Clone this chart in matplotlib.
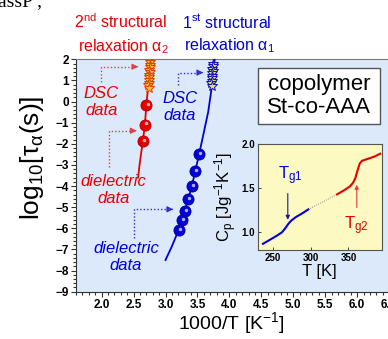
import matplotlib.pyplot as plt
from matplotlib.patches import Rectangle
from matplotlib.ticker import MultipleLocator
from matplotlib.transforms import ScaledTranslation

plt.rcParams['font.family'] = ['Liberation Sans', 'DejaVu Sans']
plt.rcParams['mathtext.fontset'] = 'custom'
plt.rcParams['mathtext.rm'] = 'Liberation Sans'
plt.rcParams['mathtext.it'] = 'Liberation Sans:italic'
plt.rcParams['mathtext.bf'] = 'Liberation Sans:bold'
plt.rcParams['mathtext.default'] = 'regular'

RED = '#e60000'
BLUE = '#0000d8'

# dielectric relaxation times (circles)
diel2_x = [2.645, 2.678, 2.700]
diel2_y = [-1.87, -1.09, -0.16]
diel1_x = [3.205, 3.257, 3.299, 3.355, 3.413, 3.465, 3.527]
diel1_y = [-6.08, -5.61, -5.17, -4.63, -4.00, -3.29, -2.48]

# DSC derived relaxation times (stars)
dsc2_x = [2.765, 2.755, 2.76, 2.745, 2.75, 2.74, 2.745, 2.735, 2.74, 2.73, 2.735]
dsc2_y = [1.85, 1.72, 1.62, 1.50, 1.38, 1.26, 1.14, 1.02, 0.90, 0.76, 0.62]
dsc1_x = [3.745, 3.74, 3.735, 3.74, 3.73, 3.725, 3.73, 3.72, 3.715, 3.72]
dsc1_y = [1.78, 1.66, 1.55, 1.45, 1.34, 1.22, 1.10, 0.98, 0.86, 0.72]

# VFT curves as drawn
fit2_x = [2.57, 2.60, 2.645, 2.678, 2.700, 2.74, 2.79]
fit2_y = [-3.6, -2.85, -1.87, -1.09, -0.16, 1.05, 2.3]
fit1_x = [3.00, 3.10, 3.205, 3.257, 3.299, 3.355, 3.413, 3.465, 3.527, 3.60, 3.668, 3.72, 3.78]
fit1_y = [-7.5, -6.85, -6.08, -5.61, -5.17, -4.63, -4.00, -3.29, -2.48, -1.45, -0.49, 0.6, 2.3]

# inset: heat capacity
cp1_T = [237, 245, 255, 262, 266, 270, 274, 280, 288, 297]
cp1 = [0.87, 0.91, 0.96, 1.00, 1.04, 1.09, 1.13, 1.17, 1.21, 1.26]
cpm_T = [297, 335]
cpm = [1.26, 1.43]
cp2_T = [335, 345, 352, 356, 359, 362, 365, 368, 375, 385, 392]
cp2 = [1.43, 1.48, 1.52, 1.56, 1.61, 1.70, 1.78, 1.81, 1.83, 1.86, 1.89]

fig = plt.figure(figsize=(3.88, 3.39), dpi=100)
ax = fig.add_axes([0.196, 0.1395, 0.8235, 0.6856])
ax.set_facecolor('#dce9fa')
ax.set_xlim(1.6, 6.6)
ax.set_ylim(-9, 2)
ax.xaxis.set_minor_locator(MultipleLocator(0.1))
ax.yaxis.set_major_locator(MultipleLocator(1))
ax.yaxis.set_minor_locator(MultipleLocator(0.2))
ax.set_xticks([2.0, 2.5, 3.0, 3.5, 4.0, 4.5, 5.0, 5.5, 6.0, 6.5])
ax.set_xticklabels(['2.0', '2.5', '3.0', '3.5', '4.0', '4.5', '5.0', '5.5', '6.0', '6.5'])
ax.tick_params(which='both', direction='out', width=0.8, color='#333333', pad=1.5)
ax.tick_params(which='major', length=3.5, labelsize=8.5)
ax.tick_params(which='minor', length=2.2)
for lab in ax.get_xticklabels() + ax.get_yticklabels():
    lab.set_fontweight('bold')
for s in ['left', 'bottom']:
    ax.spines[s].set_color('#333333')
ax.spines['top'].set_color('#777777')
ax.spines['right'].set_visible(False)

# curves
ax.plot(fit2_x, fit2_y, color=RED, lw=1.3, zorder=3)
ax.plot(fit1_x, fit1_y, color=BLUE, lw=1.3, zorder=3)

# dielectric spheres with highlight
hl = ax.transData + ScaledTranslation(0.012, 0.012, fig.dpi_scale_trans)
ax.plot(diel2_x, diel2_y, 'o', ms=8, mfc=RED, mec='#b00000', mew=0.6, zorder=4)
ax.plot(diel2_x, diel2_y, 'o', ms=2.5, mfc='#ffb0b0', mec='none', transform=hl, zorder=5)
ax.plot(diel1_x, diel1_y, 'o', ms=8, mfc=BLUE, mec='#000090', mew=0.6, zorder=4)
ax.plot(diel1_x, diel1_y, 'o', ms=2.5, mfc='#b0b0ff', mec='none', transform=hl, zorder=5)

# DSC stars
ax.plot(dsc2_x, dsc2_y, '*', ms=7, mfc='#f5c040', mec='#e04000', mew=0.7, zorder=4)
ax.plot(dsc1_x, dsc1_y, '*', ms=7, mfc='#e8e060', mec='#1010c0', mew=0.7, zorder=4)

# labels inside the plot
ax.text(1.997, -0.04, 'DSC\ndata', color=RED, style='italic', fontsize=12,
        ha='center', va='center', linespacing=1.15)
ax.text(2.185, -4.2, 'dielectric\ndata', color=RED, style='italic', fontsize=12,
        ha='center', va='center', linespacing=1.15)
ax.text(3.225, -0.24, 'DSC\ndata', color=BLUE, style='italic', fontsize=12,
        ha='center', va='center', linespacing=1.15)
ax.text(2.38, -7.36, 'dielectric\ndata', color=BLUE, style='italic', fontsize=12,
        ha='center', va='center', linespacing=1.15)

# dotted pointer arrows: (x start, y start, y corner, x tip)
pointers = [(1.984, 0.94, 1.65, 2.573, '#e04040'),
            (2.11, -3.10, -1.38, 2.548, '#e04040'),
            (3.20, 0.78, 1.37, 3.59, '#3030d0'),
            (2.513, -6.47, -5.10, 3.12, '#3030d0')]
for x0, y0, y1, x2, c in pointers:
    ax.plot([x0, x0, x2 - 0.06], [y0, y1, y1], ls=(0, (1, 1.5)), color=c, lw=1)
    ax.annotate('', xy=(x2, y1), xytext=(x2 - 0.07, y1),
                arrowprops=dict(arrowstyle='-|>', color=c, lw=0.8, mutation_scale=9))

# axis labels
fig.text(32 / 388, 1 - 158 / 339, r'log$_{10}$[τ$_α$(s)]', rotation=90,
         ha='center', va='center', fontsize=19)
fig.text(231.5 / 388, 1 - 329 / 339, r'1000/T [K$^{-1}$]', ha='center', va='baseline', fontsize=14)

# titles
fig.text(121 / 388, 1 - 28 / 339, r'2$^{nd}$ structural', color=RED, ha='center', va='baseline', fontsize=11.5)
fig.text(123 / 388, 1 - 51 / 339, r'relaxation α$_2$', color=RED, ha='center', va='baseline', fontsize=11.5)
fig.text(227 / 388, 1 - 28 / 339, r'1$^{st}$ structural', color=BLUE, ha='center', va='baseline', fontsize=11.5)
fig.text(229.5 / 388, 1 - 50 / 339, r'relaxation α$_1$', color=BLUE, ha='center', va='baseline', fontsize=11.5)

# cut-off text from the page above
fig.text(-0.005, 1 - 6 / 339, 'assP ,', family='Liberation Serif', fontsize=14, va='baseline')

# sample box
fig.patches.append(Rectangle((258 / 388, 1 - 124 / 339), 122 / 388, 56 / 339,
                             transform=fig.transFigure, facecolor='white',
                             edgecolor='#555555', lw=1, zorder=5))
fig.text(319 / 388, 1 - 96 / 339, 'copolymer\nSt-co-AAA', ha='center', va='center',
         fontsize=16, linespacing=1.1, zorder=6)

# inset
ins = fig.add_axes([257.7 / 388, 1 - 250 / 339, 124 / 388, 106 / 339])
ins.set_facecolor('#fdf9c2')
ins.set_xlim(230, 394)
ins.set_ylim(0.8, 2.0)
ins.set_xticks([250, 300, 350])
ins.set_yticks([1.0, 1.5, 2.0])
ins.set_yticklabels(['1.0', '1.5', '2.0'])
ins.tick_params(direction='in', length=2.5, width=0.7, labelsize=7, pad=2, color='#444444')
for lab in ins.get_xticklabels() + ins.get_yticklabels():
    lab.set_fontweight('bold')
for s in ins.spines.values():
    s.set_color('#555555')
ins.plot(cp1_T, cp1, color=BLUE, lw=1.5)
ins.plot(cpm_T, cpm, color='#666666', lw=0.6, ls=':')
ins.plot(cp2_T, cp2, color=RED, lw=1.5)
ins.annotate('', xy=(269.8, 1.11), xytext=(269.8, 1.47),
             arrowprops=dict(arrowstyle='-|>', color='#1a1a90', lw=0.8, mutation_scale=6))
ins.annotate('', xy=(361, 1.57), xytext=(361, 1.25),
             arrowprops=dict(arrowstyle='-|>', color='#e04040', lw=0.8, mutation_scale=6))
ins.text(273, 1.64, r'T$_{g1}$', color=BLUE, fontsize=12, ha='center', va='center')
ins.text(360, 1.08, r'T$_{g2}$', color=RED, fontsize=12, ha='center', va='center')
ins.set_xlabel('T [K]', fontsize=12, labelpad=1)
ins.set_ylabel(r'C$_p$ [Jg$^{-1}$K$^{-1}$]', fontsize=12, labelpad=2)

fig.savefig('out.png', dpi=100)
